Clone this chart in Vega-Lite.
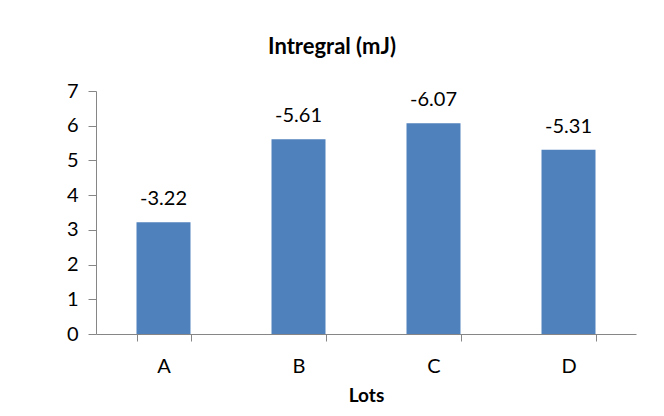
{
  "$schema": "https://vega.github.io/schema/vega-lite/v6.json",
  "autosize": "none",
  "width": 540,
  "height": 243,
  "padding": {"left": 96, "top": 91, "right": 28, "bottom": 82},
  "background": "white",
  "title": {
    "text": "Intregral (mJ)",
    "font": "Lato",
    "fontSize": 22,
    "fontWeight": "bold",
    "color": "black",
    "anchor": "middle",
    "dx": -34,
    "offset": 22
  },
  "data": {
    "values": [
      {"lot": "A", "value": 3.22, "label": "-3.22"},
      {"lot": "B", "value": 5.61, "label": "-5.61"},
      {"lot": "C", "value": 6.07, "label": "-6.07"},
      {"lot": "D", "value": 5.31, "label": "-5.31"}
    ]
  },
  "encoding": {
    "x": {
      "field": "lot",
      "type": "nominal",
      "scale": {"paddingInner": 0.6, "paddingOuter": 0.3},
      "axis": {
        "title": "Lots",
        "titleFont": "Lato",
        "titleFontSize": 19,
        "titleFontWeight": "bold",
        "titleColor": "black",
        "titlePadding": 10,
        "labelAngle": 0,
        "labelFont": "Lato",
        "labelFontSize": 20,
        "labelColor": "black",
        "labelPadding": 15,
        "tickBand": "extent",
        "tickSize": 7,
        "domainColor": "#868686",
        "tickColor": "#868686",
        "grid": false
      }
    },
    "y": {
      "field": "value",
      "type": "quantitative",
      "scale": {"domain": [0, 7]},
      "axis": {
        "title": null,
        "values": [0, 1, 2, 3, 4, 5, 6, 7],
        "labelFont": "Lato",
        "labelFontSize": 20,
        "labelColor": "black",
        "labelPadding": 10,
        "tickSize": 8,
        "domainColor": "#868686",
        "tickColor": "#868686",
        "grid": false
      }
    }
  },
  "layer": [
    {"mark": {"type": "bar", "color": "#4F81BD"}},
    {
      "mark": {"type": "text", "baseline": "bottom", "dy": -13, "font": "Lato", "fontSize": 20, "color": "black"},
      "encoding": {"text": {"field": "label", "type": "nominal"}}
    }
  ],
  "config": {"view": {"stroke": null}}
}
